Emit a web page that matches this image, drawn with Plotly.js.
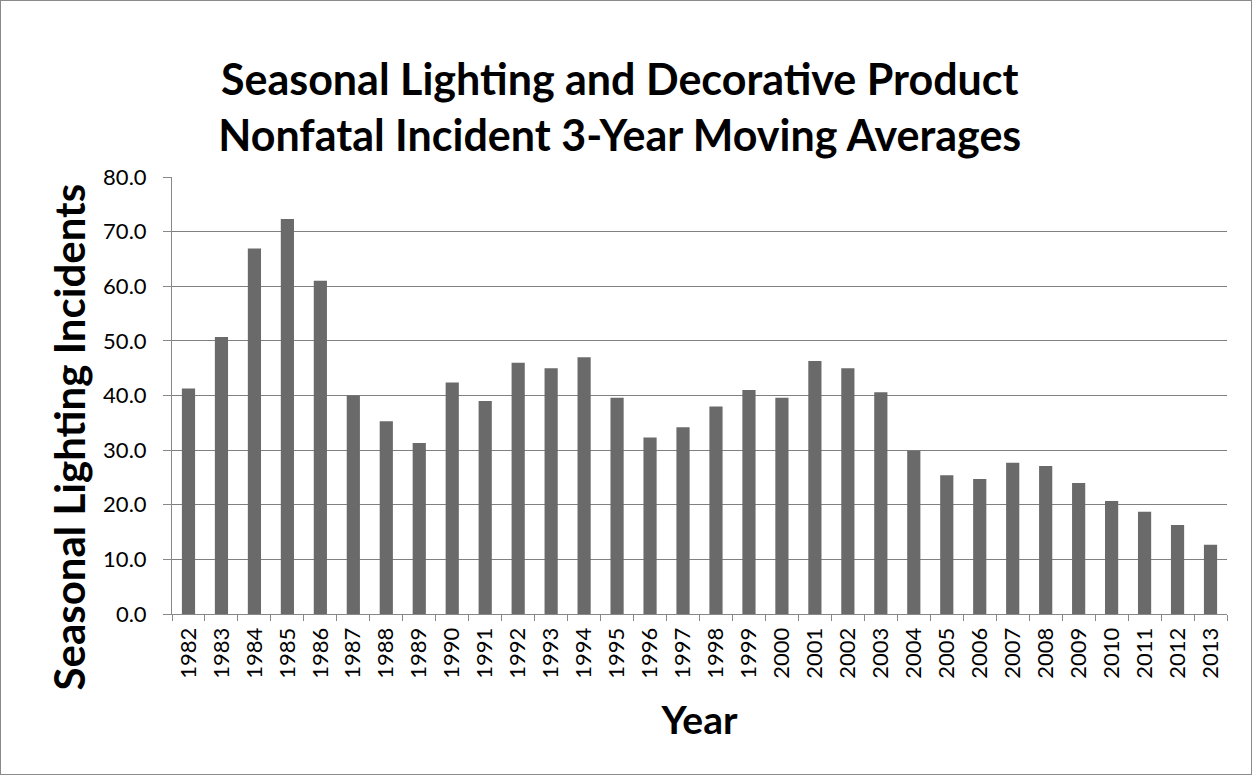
<!DOCTYPE html>
<html>
<head>
<meta charset="utf-8">
<script src="https://cdn.plot.ly/plotly-3.0.1.min.js"></script>
<style>
html,body{margin:0;padding:0;background:#fff;}
#chart{width:1252px;height:775px;box-sizing:border-box;border:1px solid #8a8a8a;}
</style>
</head>
<body>
<div id="chart"></div>
<script>
const years = ["1982","1983","1984","1985","1986","1987","1988","1989","1990","1991","1992","1993","1994","1995","1996","1997","1998","1999","2000","2001","2002","2003","2004","2005","2006","2007","2008","2009","2010","2011","2012","2013"];
const incidents = [41.3,50.7,66.9,72.3,61.0,40.0,35.3,31.3,42.4,39.0,46.0,45.0,47.0,39.6,32.3,34.2,38.0,41.0,39.6,46.3,45.0,40.6,29.9,25.4,24.7,27.7,27.1,24.0,20.7,18.7,16.3,12.7];
const yTicks = [0,10,20,30,40,50,60,70,80];
const yTitle = 'Seasonal Lighting Incidents';

const font = "Lato, 'Open Sans', sans-serif";
Plotly.newPlot('chart', [{
  type: 'bar',
  x: years,
  y: incidents,
  marker: {color: '#6a6a6a', line: {width: 0}},
  hoverinfo: 'x+y'
}], {
  width: 1250, height: 773,
  margin: {l: 171, r: 24, t: 176, b: 160},
  paper_bgcolor: '#fff', plot_bgcolor: '#fff',
  bargap: 0.6,
  showlegend: false,
  title: {
    text: 'Seasonal Lighting and Decorative Product<br>Nonfatal Incident 3-Year Moving Averages',
    font: {family: font, size: 43, color: '#000', weight: 'bold'},
    xref: 'container', x: 0.495, xanchor: 'center',
    yref: 'container', y: 0.878, yanchor: 'middle'
  },
  xaxis: {
    type: 'category',
    tickangle: -90,
    tickfont: {family: font, size: 22, color: '#000'},
    ticks: 'outside', ticklen: 6, tickcolor: '#888', tickson: 'boundaries',
    ticklabelstandoff: 4,
    showline: true, linecolor: '#888', linewidth: 1,
    showgrid: false,
    title: {text: 'Year', font: {family: font, size: 39, color: '#000', weight: 'bold'}, standoff: 28}
  },
  yaxis: {
    range: [0, 80],
    tickvals: yTicks,
    tickformat: '.1f',
    tickfont: {family: font, size: 22, color: '#000'},
    ticks: 'outside', ticklen: 8, tickcolor: '#888',
    ticklabelstandoff: 12,
    showline: true, linecolor: '#888', linewidth: 1,
    showgrid: true, gridcolor: '#808080', gridwidth: 1.2,
    zeroline: false
  },
  annotations: [{
    text: yTitle, textangle: -90,
    font: {family: font, size: 42, color: '#000', weight: 'bold'},
    xref: 'paper', x: 0, xshift: -103, xanchor: 'center',
    yref: 'paper', y: 0.404, yanchor: 'middle',
    showarrow: false
  }]
}, {displayModeBar: false, staticPlot: true});
</script>
</body>
</html>
